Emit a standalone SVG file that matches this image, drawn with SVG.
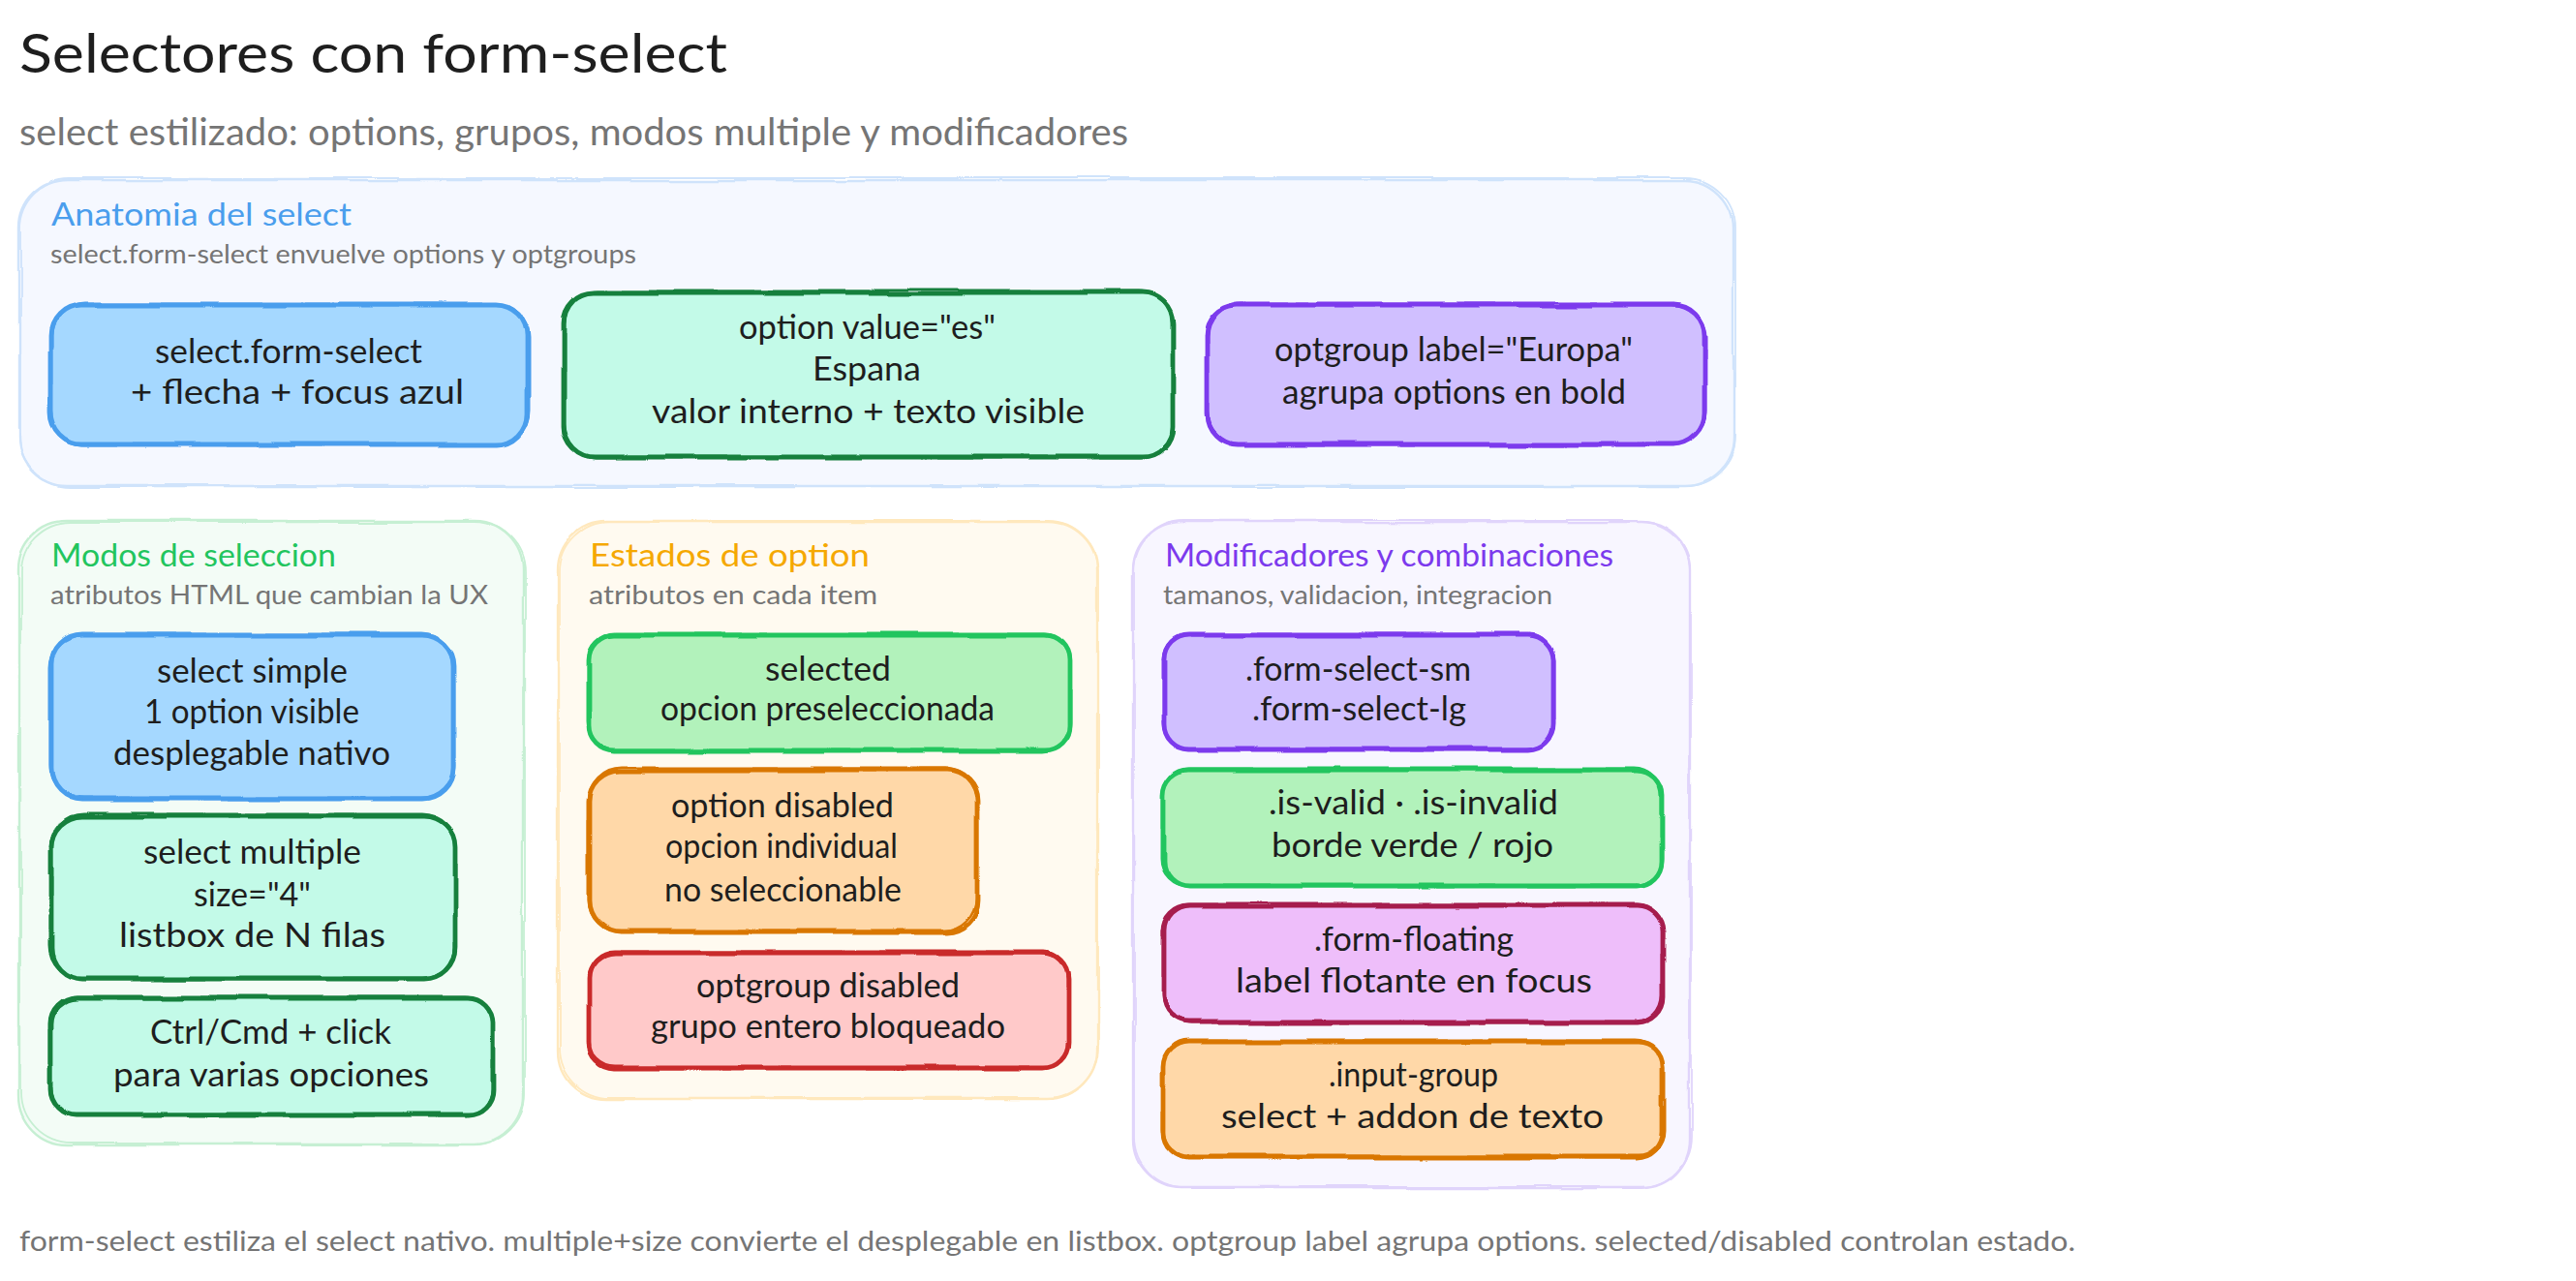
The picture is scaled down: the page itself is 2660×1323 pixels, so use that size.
<svg xmlns="http://www.w3.org/2000/svg" width="2660" height="1323" viewBox="0 0 2660 1323">
<defs>
<filter id="w1" x="-5%" y="-5%" width="110%" height="110%"><feTurbulence type="fractalNoise" baseFrequency="0.012" numOctaves="2" seed="3"/><feDisplacementMap in="SourceGraphic" scale="6" xChannelSelector="R" yChannelSelector="G"/></filter>
<filter id="w2" x="-5%" y="-5%" width="110%" height="110%"><feTurbulence type="fractalNoise" baseFrequency="0.009" numOctaves="2" seed="11"/><feDisplacementMap in="SourceGraphic" scale="7" xChannelSelector="R" yChannelSelector="G"/></filter>
</defs>
<style>
text{font-family:"Lato","Noto Sans",sans-serif}
.title{font-size:56px;fill:#1e1e1e}
.subtitle{font-size:38px;fill:#757575}
.gt{font-size:33px}
.gs{font-size:27px;fill:#757575}
.foot{font-size:29px;fill:#757575}
.t{font-size:35px;fill:#1e1e1e}
.g{stroke-width:2.4;filter:url(#w1)}
.g2{fill:none;stroke-width:1.8;filter:url(#w2)}
.n{stroke-width:4.8;filter:url(#w1)}
.n2{stroke-width:3;filter:url(#w2)}
.blue{fill:#a5d8ff;stroke:#4a9eed}
.teal{fill:#c3fae8;stroke:#15803d}
.violet{fill:#d0bfff;stroke:#7c3aed}
.green{fill:#b2f2bb;stroke:#22c55e}
.orange{fill:#ffd8a8;stroke:#d97706}
.red{fill:#ffc9c9;stroke:#c92a2a}
.pink{fill:#eebefa;stroke:#a61e4d}
rect.n2{fill:none}
</style>
<g id="header">
<text class="title" x="20" y="75" textLength="731" lengthAdjust="spacingAndGlyphs">Selectores con form-select</text>
<text class="subtitle" x="20" y="150" textLength="1145" lengthAdjust="spacingAndGlyphs">select estilizado: options, grupos, modos multiple y modificadores</text>
</g>
<g id="group-anatomia">
<rect class="g" x="20" y="186" width="1770" height="316" rx="50" fill="#f5f8ff" stroke="#cfe3fb"/>
<rect class="g2" x="21" y="184" width="1771" height="318" rx="52" stroke="#cfe3fb"/>
<text class="gt" x="53" y="233" textLength="310" lengthAdjust="spacingAndGlyphs" fill="#4a9eed">Anatomia del select</text>
<text class="gs" x="52" y="272" textLength="605" lengthAdjust="spacingAndGlyphs">select.form-select envuelve options y optgroups</text>
</g>
<g id="group-modos">
<rect class="g" x="20" y="538" width="520" height="644" rx="50" fill="#f3fcf6" stroke="#c6efd3"/>
<rect class="g2" x="21" y="539" width="521" height="642" rx="52" stroke="#c6efd3"/>
<text class="gt" x="53" y="585" textLength="294" lengthAdjust="spacingAndGlyphs" fill="#22c55e">Modos de seleccion</text>
<text class="gs" x="52" y="624" textLength="452" lengthAdjust="spacingAndGlyphs">atributos HTML que cambian la UX</text>
</g>
<g id="group-estados">
<rect class="g" x="576" y="539" width="557" height="596" rx="50" fill="#fffaf0" stroke="#ffe8bd"/>
<rect class="g2" x="577" y="538" width="557" height="597" rx="52" stroke="#ffe8bd"/>
<text class="gt" x="609" y="585" textLength="289" lengthAdjust="spacingAndGlyphs" fill="#f5a800">Estados de option</text>
<text class="gs" x="608" y="624" textLength="298" lengthAdjust="spacingAndGlyphs">atributos en cada item</text>
</g>
<g id="group-modificadores">
<rect class="g" x="1170" y="539" width="575" height="688" rx="50" fill="#f8f6ff" stroke="#e0d4fb"/>
<rect class="g2" x="1171" y="537" width="575" height="689" rx="52" stroke="#e0d4fb"/>
<text class="gt" x="1203" y="585" textLength="463" lengthAdjust="spacingAndGlyphs" fill="#7c3aed">Modificadores y combinaciones</text>
<text class="gs" x="1201" y="624" textLength="402" lengthAdjust="spacingAndGlyphs">tamanos, validacion, integracion</text>
</g>
<g id="node-select-form-select">
<rect class="n blue" x="52" y="315" width="493" height="144" rx="32"/><rect class="n2 blue" x="53" y="314" width="493" height="145" rx="34"/>
<text class="t" x="160" y="375" textLength="276" lengthAdjust="spacingAndGlyphs">select.form-select</text>
<text class="t" x="135" y="417" textLength="344" lengthAdjust="spacingAndGlyphs">+ flecha + focus azul</text>
</g>
<g id="node-option-value">
<rect class="n teal" x="582" y="302" width="629" height="170" rx="32"/><rect class="n2 teal" x="583" y="301" width="628" height="171" rx="34"/>
<text class="t" x="763" y="350" textLength="265" lengthAdjust="spacingAndGlyphs">option value="es"</text>
<text class="t" x="839" y="393" textLength="112" lengthAdjust="spacingAndGlyphs">Espana</text>
<text class="t" x="673" y="437" textLength="447" lengthAdjust="spacingAndGlyphs">valor interno + texto visible</text>
</g>
<g id="node-optgroup-label">
<rect class="n violet" x="1246" y="315" width="514" height="144" rx="32"/><rect class="n2 violet" x="1247" y="314" width="514" height="145" rx="34"/>
<text class="t" x="1316" y="373" textLength="370" lengthAdjust="spacingAndGlyphs">optgroup label="Europa"</text>
<text class="t" x="1324" y="417" textLength="355" lengthAdjust="spacingAndGlyphs">agrupa options en bold</text>
</g>
<g id="node-select-simple">
<rect class="n blue" x="53" y="656" width="416" height="169" rx="32"/><rect class="n2 blue" x="52" y="655" width="417" height="170" rx="34"/>
<text class="t" x="162" y="705" textLength="197" lengthAdjust="spacingAndGlyphs">select simple</text>
<text class="t" x="149" y="747" textLength="222" lengthAdjust="spacingAndGlyphs">1 option visible</text>
<text class="t" x="117" y="790" textLength="286" lengthAdjust="spacingAndGlyphs">desplegable nativo</text>
</g>
<g id="node-select-multiple">
<rect class="n teal" x="53" y="843" width="417" height="168" rx="32"/><rect class="n2 teal" x="52" y="842" width="418" height="169" rx="34"/>
<text class="t" x="148" y="892" textLength="225" lengthAdjust="spacingAndGlyphs">select multiple</text>
<text class="t" x="200" y="936" textLength="121" lengthAdjust="spacingAndGlyphs">size="4"</text>
<text class="t" x="123" y="978" textLength="275" lengthAdjust="spacingAndGlyphs">listbox de N filas</text>
</g>
<g id="node-ctrl-cmd">
<rect class="n teal" x="53" y="1031" width="456" height="120" rx="26"/><rect class="n2 teal" x="52" y="1030" width="457" height="121" rx="28"/>
<text class="t" x="155" y="1078" textLength="249" lengthAdjust="spacingAndGlyphs">Ctrl/Cmd + click</text>
<text class="t" x="117" y="1122" textLength="326" lengthAdjust="spacingAndGlyphs">para varias opciones</text>
</g>
<g id="node-selected">
<rect class="n green" x="608" y="656" width="497" height="119" rx="26"/><rect class="n2 green" x="607" y="655" width="498" height="120" rx="28"/>
<text class="t" x="790" y="703" textLength="130" lengthAdjust="spacingAndGlyphs">selected</text>
<text class="t" x="682" y="744" textLength="345" lengthAdjust="spacingAndGlyphs">opcion preseleccionada</text>
</g>
<g id="node-option-disabled">
<rect class="n orange" x="608" y="795" width="401" height="167" rx="32"/><rect class="n2 orange" x="607" y="794" width="402" height="168" rx="34"/>
<text class="t" x="693" y="844" textLength="230" lengthAdjust="spacingAndGlyphs">option disabled</text>
<text class="t" x="687" y="886" textLength="240" lengthAdjust="spacingAndGlyphs">opcion individual</text>
<text class="t" x="686" y="931" textLength="245" lengthAdjust="spacingAndGlyphs">no seleccionable</text>
</g>
<g id="node-optgroup-disabled">
<rect class="n red" x="608" y="984" width="495" height="119" rx="26"/><rect class="n2 red" x="607" y="983" width="496" height="120" rx="28"/>
<text class="t" x="719" y="1030" textLength="272" lengthAdjust="spacingAndGlyphs">optgroup disabled</text>
<text class="t" x="672" y="1072" textLength="366" lengthAdjust="spacingAndGlyphs">grupo entero bloqueado</text>
</g>
<g id="node-form-select-size">
<rect class="n violet" x="1202" y="656" width="402" height="118" rx="26"/><rect class="n2 violet" x="1201" y="655" width="403" height="119" rx="28"/>
<text class="t" x="1286" y="703" textLength="233" lengthAdjust="spacingAndGlyphs">.form-select-sm</text>
<text class="t" x="1293" y="744" textLength="221" lengthAdjust="spacingAndGlyphs">.form-select-lg</text>
</g>
<g id="node-is-valid">
<rect class="n green" x="1202" y="795" width="514" height="120" rx="26"/><rect class="n2 green" x="1201" y="794" width="515" height="121" rx="28"/>
<text class="t" x="1310" y="841" textLength="299" lengthAdjust="spacingAndGlyphs">.is-valid · .is-invalid</text>
<text class="t" x="1313" y="885" textLength="291" lengthAdjust="spacingAndGlyphs">borde verde / rojo</text>
</g>
<g id="node-form-floating">
<rect class="n pink" x="1202" y="935" width="515" height="121" rx="26"/><rect class="n2 pink" x="1201" y="934" width="516" height="122" rx="28"/>
<text class="t" x="1357" y="982" textLength="206" lengthAdjust="spacingAndGlyphs">.form-floating</text>
<text class="t" x="1276" y="1025" textLength="368" lengthAdjust="spacingAndGlyphs">label flotante en focus</text>
</g>
<g id="node-input-group">
<rect class="n orange" x="1202" y="1076" width="515" height="119" rx="26"/><rect class="n2 orange" x="1201" y="1075" width="516" height="120" rx="28"/>
<text class="t" x="1372" y="1122" textLength="175" lengthAdjust="spacingAndGlyphs">.input-group</text>
<text class="t" x="1261" y="1165" textLength="395" lengthAdjust="spacingAndGlyphs">select + addon de texto</text>
</g>
<g id="connectors"/>
<text class="foot" x="20" y="1292" textLength="2123" lengthAdjust="spacingAndGlyphs">form-select estiliza el select nativo. multiple+size convierte el desplegable en listbox. optgroup label agrupa options. selected/disabled controlan estado.</text>
</svg>
